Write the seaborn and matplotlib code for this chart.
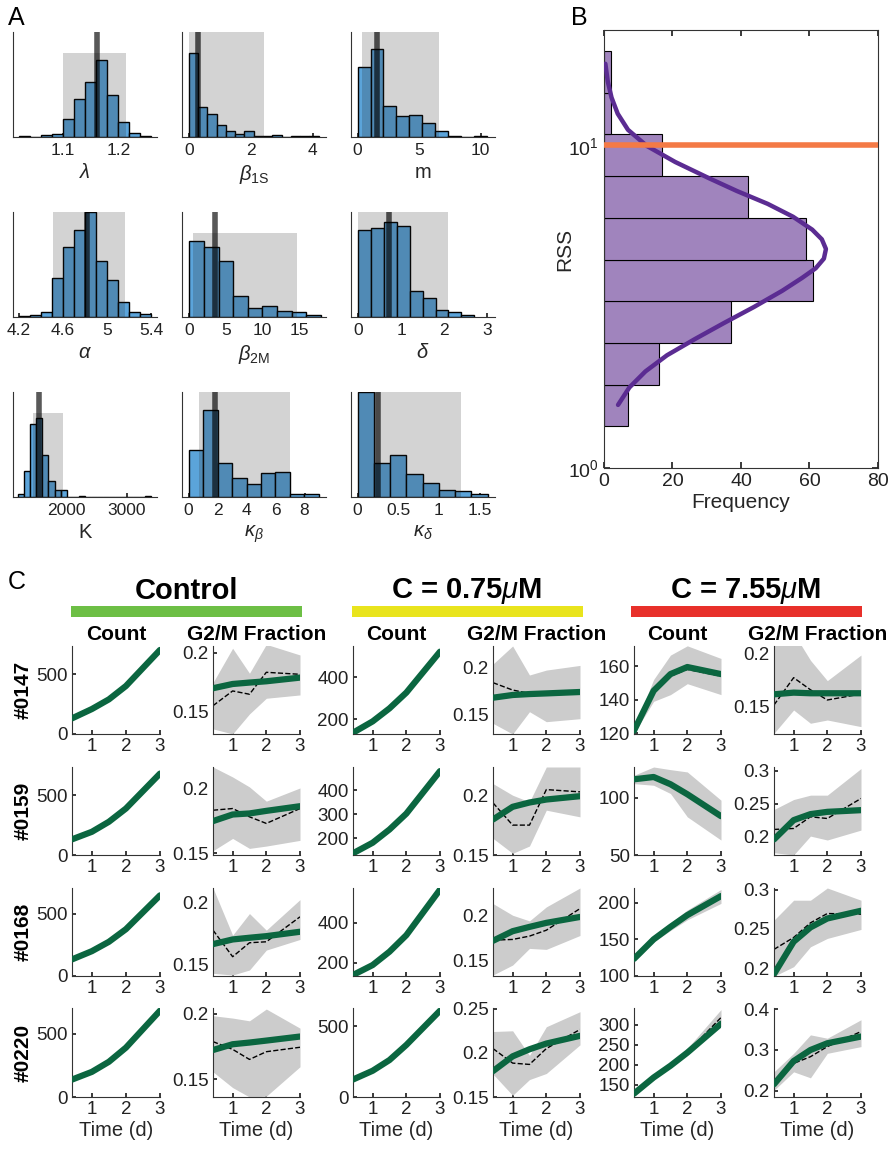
import matplotlib
matplotlib.use("Agg")
import matplotlib.pyplot as plt
import numpy as np
import pandas as pd
import seaborn as sns
from matplotlib.patches import Rectangle
from matplotlib.ticker import NullLocator

# ---------------- panel A: parameter histograms ----------------
hist_labels = [r"$\lambda$", r"$\beta_{\mathrm{1S}}$", "m",
               r"$\alpha$", r"$\beta_{\mathrm{2M}}$", r"$\delta$",
               "K", r"$\kappa_\beta$", r"$\kappa_\delta$"]
hist_start = [1.02, 0.0, 0.0, 4.2, 0.0, 0.0, 1200, 0.0, 0.0]
hist_width = [0.02, 0.3, 1.05, 0.1, 2.0, 0.3, 100, 1.0, 0.2]
hist_counts = [
    [1, 0, 2, 3, 17, 36, 52, 73, 40, 14, 4, 1],
    [80, 29, 22, 11, 6, 3, 6, 1, 1, 2, 0, 1, 1, 1],
    [67, 84, 30, 20, 21, 13, 6, 1, 0, 1],
    [1, 2, 5, 37, 67, 83, 100, 53, 35, 14, 5, 3],
    [72, 67, 53, 20, 9, 10, 6, 5, 2],
    [83, 85, 90, 87, 25, 18, 7, 5, 2],
    [3, 25, 70, 75, 40, 15, 7, 7, 0, 0, 1, 0, 0, 0, 0, 0, 0, 0, 0, 0, 0, 1],
    [45, 83, 32, 18, 12, 23, 24, 3, 3],
    [100, 32, 40, 22, 13, 7, 6, 3],
]
hist_ci_lo = [1.10, 0.0, 0.35, 4.51, 0.46, 0.0, 1439, 0.74, 0.01]
hist_ci_hi = [1.214, 2.43, 6.6, 5.16, 14.7, 2.08, 1933, 6.98, 1.27]
hist_ci_top = [80, 100, 100, 100, 80, 100, 80, 100, 100]
hist_best = [1.162, 0.29, 1.6, 4.82, 3.58, 0.72, 1539, 1.8, 0.256]
hist_xlim = [(1.009, 1.27), (-0.216, 4.43), (-0.54, 11.16), (4.145, 5.453),
             (-1.0, 18.7), (-0.17, 3.18), (1111, 3500), (-0.46, 9.48), (-0.08, 1.69)]
hist_xticks = [[1.1, 1.2], [0, 2, 4], [0, 5, 10], [4.2, 4.6, 5, 5.4], [0, 5, 10, 15],
               [0, 1, 2, 3], [2000, 3000], [0, 2, 4, 6, 8], [0, 0.5, 1, 1.5]]

# ---------------- panel B: RSS histogram ----------------
rss_bin_start_log = 0.129
rss_bin_width_log = 0.1297
rss_freq = [7, 16, 37, 61, 59, 42, 17, 2, 2]
fit_freq = [4.1, 7.4, 12.1, 18.4, 26.5, 35.0, 43.8, 52.0, 57.8, 61.8, 64.2, 64.8, 63.6,
            60.8, 55.2, 47.8, 38.8, 30.6, 20.8, 12.5, 7.0, 4.0, 2.2, 1.1, 0.4]
fit_rss = [1.570, 1.778, 1.995, 2.239, 2.512, 2.818, 3.162, 3.548, 3.890, 4.169, 4.467,
           4.786, 5.129, 5.495, 6.026, 6.607, 7.244, 7.943, 8.913, 10.0, 11.22, 12.59,
           14.13, 15.85, 17.99]
best_rss = 10.1

# ---------------- panel C: model fits ----------------
time_days = [0.417, 1, 1.5, 2, 3]
cell_lines = ["#0147", "#0159", "#0168", "#0220"]
conditions = ["Control", r"C = 0.75$\mu$M", r"C = 7.55$\mu$M"]

count_model_ctrl = [[131, 209, 290, 402, 704], [131, 194, 278, 389, 681],
                    [133, 199, 274, 375, 646], [138, 199, 279, 391, 684]]
count_model_low = [[136, 190, 252, 327, 522], [138, 182, 237, 303, 480],
                   [138, 188, 255, 338, 567], [124, 186, 262, 369, 612]]
count_model_high = [[121.6, 145.3, 155.2, 159.4, 155.2], [115.9, 117.9, 111.6, 102.9, 83.8],
                    [123.4, 150, 167, 183, 209], [127.3, 167.7, 197.2, 230, 302.5]]
count_data_high = [[122, 144, 154, 158, 154], [116, 118, 111, 103, 84],
                   [123, 150, 167, 183, 209], [127, 167, 197, 231, 318]]
count_lo_high = [[120, 139, 143, 149.5, 143], [112.1, 110.7, 103.5, 83.2, 63],
                 [120, 146.4, 162, 176.6, 199], [120.5, 162.6, 193, 227, 296]]
count_hi_high = [[123, 152, 166.5, 172, 164.5], [119.4, 126.6, 124.3, 122.3, 97.7],
                 [127, 153.6, 172.5, 190, 218], [131.5, 171, 203, 241, 338]]

g2m_model_ctrl = [[0.1698, 0.1734, 0.1746, 0.1757, 0.1788], [0.1749, 0.18, 0.1808, 0.1828, 0.1864],
                  [0.1663, 0.1701, 0.1715, 0.1728, 0.1764], [0.1723, 0.1767, 0.178, 0.1795, 0.1826]]
g2m_data_ctrl = [[0.155, 0.1675, 0.1647, 0.1833, 0.1816], [0.1833, 0.1846, 0.1782, 0.1731, 0.1846],
                 [0.1777, 0.156, 0.1674, 0.1682, 0.1886], [0.1787, 0.1728, 0.1651, 0.171, 0.1744]]
g2m_lo_ctrl = [[0.1353, 0.1311, 0.148, 0.1613, 0.1641], [0.152, 0.1615, 0.1538, 0.1556, 0.16],
               [0.1424, 0.141, 0.1451, 0.1614, 0.1701], [0.1556, 0.1436, 0.1364, 0.137, 0.1595]]
g2m_hi_ctrl = [[0.1746, 0.2037, 0.1825, 0.207, 0.198], [0.2167, 0.209, 0.2013, 0.1903, 0.2005],
               [0.2122, 0.1736, 0.1913, 0.1777, 0.2027], [0.1985, 0.1967, 0.1946, 0.2036, 0.189]]

g2m_model_low = [[0.1675, 0.1704, 0.1714, 0.1721, 0.1736], [0.1797, 0.1903, 0.1939, 0.1964, 0.1992],
                 [0.1715, 0.1822, 0.187, 0.1915, 0.1981], [0.1794, 0.1962, 0.2042, 0.2107, 0.2195]]
g2m_data_low = [[0.1836, 0.1757, 0.1721, 0.173, 0.1736], [0.1936, 0.175, 0.175, 0.2047, 0.2028],
                [0.1722, 0.173, 0.1767, 0.1833, 0.2074], [0.205, 0.1885, 0.187, 0.205, 0.2267]]
g2m_lo_low = [[0.14, 0.1286, 0.1525, 0.1418, 0.145], [0.1639, 0.1514, 0.1575, 0.1875, 0.1819],
              [0.1333, 0.1444, 0.163, 0.1619, 0.1774], [0.176, 0.1519, 0.1698, 0.1767, 0.2092]]
g2m_hi_low = [[0.2036, 0.2229, 0.1918, 0.1971, 0.2021], [0.2097, 0.2, 0.1944, 0.2236, 0.2236],
              [0.213, 0.2, 0.1937, 0.2093, 0.2304], [0.2244, 0.2252, 0.1973, 0.2298, 0.2469]]

g2m_model_high = [[0.1617, 0.1633, 0.1627, 0.1627, 0.1627], [0.1949, 0.2245, 0.2337, 0.2372, 0.2398],
                  [0.1928, 0.2338, 0.252, 0.2633, 0.2731], [0.2164, 0.273, 0.3, 0.3164, 0.3328]]
g2m_data_high = [[0.1516, 0.1775, 0.166, 0.1563, 0.162], [0.2102, 0.2117, 0.2296, 0.227, 0.2577],
                 [0.2241, 0.2392, 0.2578, 0.2696, 0.2688], [0.218, 0.2672, 0.2836, 0.3082, 0.345]]
g2m_lo_high = [[0.1247, 0.1468, 0.1342, 0.1373, 0.131], [0.1745, 0.171, 0.2, 0.194, 0.2092],
               [0.19, 0.2021, 0.2274, 0.238, 0.2494], [0.2016, 0.2467, 0.232, 0.2918, 0.3082]]
g2m_hi_high = [[0.215, 0.22, 0.194, 0.1747, 0.199], [0.2408, 0.2561, 0.2628, 0.2628, 0.3036],
               [0.2612, 0.2865, 0.2865, 0.302, 0.2865], [0.2467, 0.2918, 0.3369, 0.3287, 0.3738]]

# axis limits / ticks per panel (rows = cell lines, columns = 6 panels)
c_ylims = [
    [(0, 737), (0.131, 0.2056), (130, 549), (0.1286, 0.2229), (119.6, 171.9), (0.124, 0.2076)],
    [(0, 736), (0.1487, 0.2167), (131, 497), (0.15, 0.2236), (50, 126.6), (0.171, 0.306)],
    [(0, 705), (0.1402, 0.2122), (133, 575), (0.1322, 0.2304), (101, 220), (0.1903, 0.302)],
    [(0, 705), (0.1364, 0.2044), (0, 631), (0.15, 0.2511), (118.8, 342), (0.1852, 0.4025)],
]
c_yticks = [
    [[0, 500], [0.15, 0.2], [200, 400], [0.15, 0.2], [120, 140, 160], [0.15, 0.2]],
    [[0, 500], [0.15, 0.2], [200, 300, 400], [0.15, 0.2], [50, 100], [0.2, 0.25, 0.3]],
    [[0, 500], [0.15, 0.2], [200, 400], [0.15, 0.2], [100, 150, 200], [0.2, 0.25, 0.3]],
    [[0, 500], [0.15, 0.2], [0, 500], [0.15, 0.2, 0.25], [150, 200, 250, 300], [0.2, 0.3, 0.4]],
]

# ---------------- style ----------------
sns.set_theme(style="white")
plt.rcParams["font.family"] = ["Liberation Sans", "DejaVu Sans"]
plt.rcParams["mathtext.fontset"] = "custom"
plt.rcParams["mathtext.rm"] = "Liberation Sans"
plt.rcParams["mathtext.it"] = "Liberation Sans:italic"
plt.rcParams["mathtext.bf"] = "Liberation Sans:bold"
plt.rcParams["axes.edgecolor"] = "#333333"
plt.rcParams["axes.linewidth"] = 0.8
plt.rcParams["text.color"] = "black"
plt.rcParams["xtick.color"] = "#222222"
plt.rcParams["ytick.color"] = "#222222"

bar_blue = "#5ba4da"
green = "#0b6640"
band_gray = "#cccccc"

W, H = 895, 1151
fig = plt.figure(figsize=(W / 100, H / 100), dpi=100)


def box(x0, y0, x1, y1):
    return [x0 / W, 1 - y1 / H, (x1 - x0) / W, (y1 - y0) / H]


def fmt(vals):
    return [f"{v:g}" for v in vals]


# ---------- A ----------
a_cols = [(13, 157), (182, 326), (351, 495)]
a_rows = [(32, 137), (212, 317), (392, 497)]
for i in range(9):
    r, c = divmod(i, 3)
    ax = fig.add_axes(box(a_cols[c][0], a_rows[r][0], a_cols[c][1], a_rows[r][1]))
    n = len(hist_counts[i])
    lo_edge = hist_start[i]
    hi_edge = hist_start[i] + hist_width[i] * n
    df = pd.DataFrame({
        "value": lo_edge + hist_width[i] * (np.arange(n) + 0.5),
        "count": hist_counts[i],
    })
    sns.histplot(data=df, x="value", weights="count", binwidth=hist_width[i],
                 binrange=(lo_edge, hi_edge - hist_width[i] * 0.01), ax=ax, color=bar_blue,
                 alpha=1, edgecolor="black", linewidth=1.0)
    ax.fill_between([hist_ci_lo[i], hist_ci_hi[i]], 0, hist_ci_top[i], color="#242424",
                    alpha=0.2, lw=0, zorder=3)
    ax.axvline(hist_best[i], color="black", alpha=0.65, lw=4, zorder=4)
    ax.set_xlim(hist_xlim[i])
    ax.set_ylim(0, 100)
    ax.set_xticks(hist_xticks[i])
    ax.set_xticklabels(fmt(hist_xticks[i]))
    ax.set_yticks([])
    ax.set_ylabel("")
    ax.set_xlabel(hist_labels[i], fontsize=14.5, labelpad=4)
    ax.tick_params(axis="x", bottom=True, direction="in", length=3, labelsize=12.5, pad=4)
    for s in ["top", "right"]:
        ax.spines[s].set_visible(False)

# ---------- B ----------
axb = fig.add_axes(box(604, 30, 878, 468))
nb = len(rss_freq)
rss_df = pd.DataFrame({
    "rss": 10 ** (rss_bin_start_log + rss_bin_width_log * (np.arange(nb) + 0.5)),
    "freq": rss_freq,
})
sns.histplot(data=rss_df, y="rss", weights="freq", log_scale=True,
             binwidth=rss_bin_width_log,
             binrange=(rss_bin_start_log, rss_bin_start_log + rss_bin_width_log * (nb - 0.01)),
             ax=axb, color="#a084bd", alpha=1, edgecolor="black", linewidth=0.8)
sns.lineplot(x=fit_freq, y=fit_rss, sort=False, ax=axb, color="#5b2c92", lw=3.2, zorder=5)
axb.axhline(best_rss, color="#f47a46", lw=4, zorder=6)
axb.set_xlim(0, 80)
axb.set_xticks([0, 20, 40, 60, 80])
axb.set_ylim(1, 22.9)
axb.yaxis.set_minor_locator(NullLocator())
axb.tick_params(direction="in", top=True, right=True, bottom=True, left=True, length=4,
                labelsize=14)
axb.set_xlabel("Frequency", fontsize=15, labelpad=2)
axb.set_ylabel("RSS", fontsize=15, labelpad=-4)

# ---------- C ----------
c_cols = [(72, 160), (213, 300), (353, 440), (493, 580), (634, 721), (774, 861)]
c_rows = [(646, 734), (767, 855), (888, 976), (1008, 1097)]

count_models = [count_model_ctrl, count_model_low, count_model_high]
g2m_models = [g2m_model_ctrl, g2m_model_low, g2m_model_high]
g2m_datas = [g2m_data_ctrl, g2m_data_low, g2m_data_high]
g2m_los = [g2m_lo_ctrl, g2m_lo_low, g2m_lo_high]
g2m_his = [g2m_hi_ctrl, g2m_hi_low, g2m_hi_high]


def draw_panel(ax, model, data=None, lo=None, hi=None):
    if lo is not None:
        ax.fill_between(time_days, lo, hi, color=band_gray, lw=0, zorder=1)
    if data is not None:
        sns.lineplot(x=time_days, y=data, ax=ax, color="black", lw=1.0, linestyle="--",
                     zorder=2)
    sns.lineplot(x=time_days, y=model, ax=ax, color=green, lw=4.5, zorder=3)


for r in range(4):
    for k in range(3):
        for j in range(2):
            col = 2 * k + j
            ax = fig.add_axes(box(c_cols[col][0], c_rows[r][0], c_cols[col][1], c_rows[r][1]))
            if j == 0:
                if k == 2:
                    draw_panel(ax, count_model_high[r], count_data_high[r],
                               count_lo_high[r], count_hi_high[r])
                else:
                    draw_panel(ax, count_models[k][r])
            else:
                draw_panel(ax, g2m_models[k][r], g2m_datas[k][r], g2m_los[k][r], g2m_his[k][r])
            ax.set_xlim(0.417, 3.0)
            ax.set_xticks([1, 2, 3])
            ax.set_ylim(c_ylims[r][col])
            ax.set_yticks(c_yticks[r][col])
            ax.set_yticklabels(fmt(c_yticks[r][col]))
            ax.tick_params(bottom=True, left=True, direction="in", length=3,
                           labelsize=13.5, pad=3)
            for s in ["top", "right"]:
                ax.spines[s].set_visible(False)
            if r == 3:
                ax.set_xlabel("Time (d)", fontsize=14.5, labelpad=2)
            if r == 0:
                ax.set_title(["Count", "G2/M Fraction"][j], fontsize=15, fontweight="bold",
                             pad=4)
            if col == 0:
                fig.text(23 / W, 1 - (c_rows[r][0] + c_rows[r][1]) / 2 / H, cell_lines[r],
                         rotation=90, ha="center", va="center", fontsize=15, fontweight="bold")

# condition headers with coloured bars
header_colors = ["#6dbf45", "#e9e41d", "#e8302a"]
header_x = [187, 467, 746]
bar_spans = [(71, 302), (352, 583), (631, 862)]
for k in range(3):
    fig.text(header_x[k] / W, 1 - 591 / H, conditions[k], ha="center", va="center",
             fontsize=21, fontweight="bold")
    x0, x1 = bar_spans[k]
    fig.add_artist(Rectangle((x0 / W, 1 - 617 / H), (x1 - x0) / W, 11 / H,
                             transform=fig.transFigure, color=header_colors[k], lw=0))

# panel letters
fig.text(8 / W, 1 - 18 / H, "A", fontsize=18, va="center")
fig.text(571 / W, 1 - 18 / H, "B", fontsize=18, va="center")
fig.text(8 / W, 1 - 582 / H, "C", fontsize=18, va="center")

fig.savefig("out.png", dpi=100)
